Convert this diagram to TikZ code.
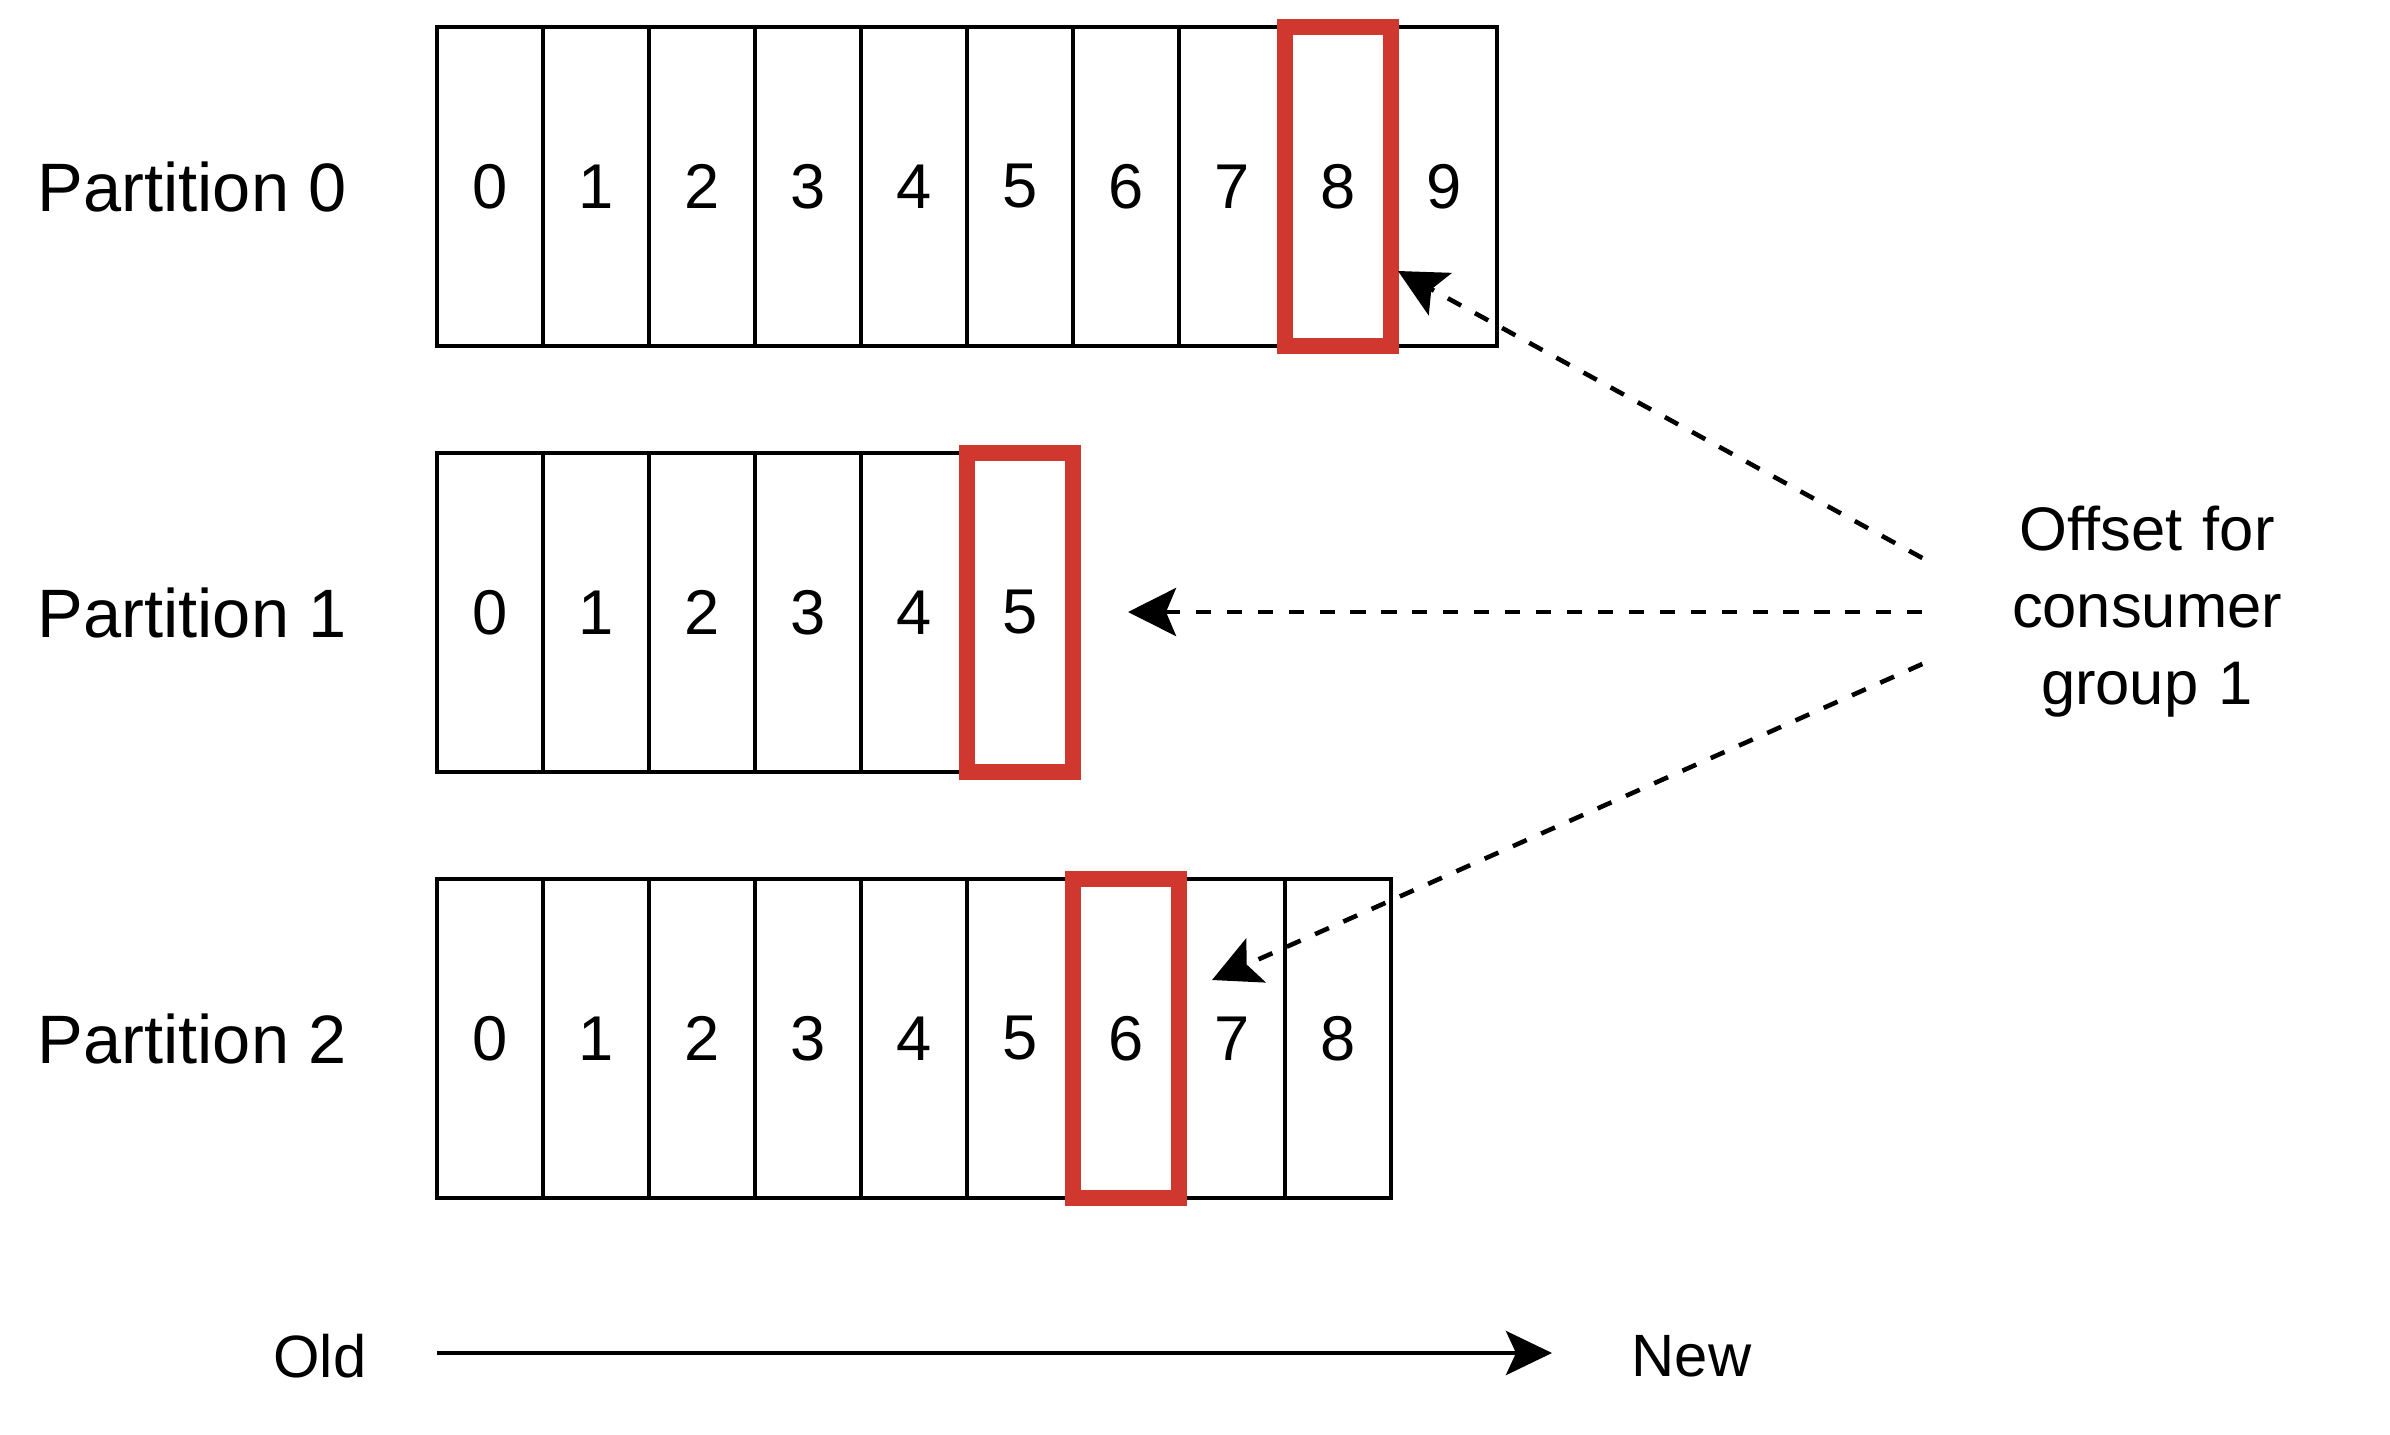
\documentclass[tikz,border=0pt]{standalone}
\usepackage{fontspec}
\setmainfont{Liberation Sans}
\usepackage{xcolor}
\usepackage{tikz}
\usetikzlibrary{shapes,arrows,arrows.meta,positioning,calc}

\definecolor{offsetred}{RGB}{208,56,47}

\begin{document}
\begin{tikzpicture}[
    cell/.style={draw, line width=1pt, minimum width=1.06cm, minimum height=3.19cm, inner sep=0pt, outer sep=0pt, font=\fontsize{18}{22}\selectfont},
    marked/.style={draw=offsetred, line width=4.5pt, minimum width=1.06cm, minimum height=3.19cm, inner sep=0pt},
    partlabel/.style={inner sep=0pt, font=\fontsize{19.5}{24}\selectfont},
    timelabel/.style={inner sep=0pt, font=\fontsize{17}{21}\selectfont},
    pointer/.style={-{Stealth[length=4.8mm, width=4.8mm, inset=1mm]}, line width=1.3pt, dash pattern=on 4.3pt off 4.5pt},
    timeline/.style={-{Stealth[length=4.6mm, width=4.4mm, inset=1mm]}, line width=1.3pt}
]
\useasboundingbox (0,0) rectangle (23.9,-14.34);

% Partition 0
\foreach \i in {0,...,9}
    \node[cell] (p0c\i) at (4.9+1.06*\i,-1.865) {\i};
\node[partlabel, left=0.9cm of p0c0] (part0) {Partition 0};

% Partition 1
\foreach \i in {0,...,5}
    \node[cell] (p1c\i) at (4.9+1.06*\i,-6.125) {\i};
\node[partlabel, left=0.9cm of p1c0] (part1) {Partition 1};

% Partition 2
\foreach \i in {0,...,8}
    \node[cell] (p2c\i) at (4.9+1.06*\i,-10.385) {\i};
\node[partlabel, left=0.9cm of p2c0] (part2) {Partition 2};

% Current offsets
\node[marked] (mark0) at (p0c8) {};
\node[marked] (mark1) at (p1c5) {};
\node[marked] (mark2) at (p2c6) {};

% Consumer group
\node[align=center, text width=2.75cm, inner xsep=0.865cm, inner ysep=0pt, font=\fontsize{17.5}{21.9}\selectfont] (offset) at (21.47,-6.12) {Offset for\\consumer\\group 1};
\coordinate (tip0) at (13.98,-2.71);
\coordinate (tip1) at (11.28,-6.12);
\coordinate (tip2) at (12.12,-9.80);
\draw[pointer] ([yshift=5.4mm]offset.west) -- (tip0);
\draw[pointer] (offset.west) -- (tip1);
\draw[pointer] ([yshift=-5.2mm]offset.west) -- (tip2);

% Old -> New
\node[timelabel, anchor=east] (old) at (3.67,-13.56) {Old};
\node[timelabel, anchor=west] (new) at (16.31,-13.56) {New};
\draw[timeline] ([xshift=0.7cm,yshift=0.03cm]old.east) -- ([xshift=-0.79cm,yshift=0.03cm]new.west);
\end{tikzpicture}
\end{document}
